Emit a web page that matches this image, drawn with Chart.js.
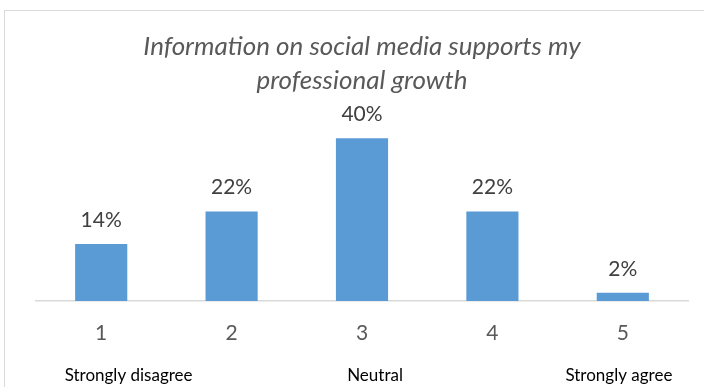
<!DOCTYPE html>
<html>
<head>
<meta charset="utf-8">
<script src="https://cdn.jsdelivr.net/npm/chart.js@4"></script>
<style>
  html, body { margin: 0; padding: 0; background: #ffffff; }
  #wrap { width: 704px; height: 387px; position: relative; }
</style>
</head>
<body>
<div id="wrap"><canvas id="chart" width="704" height="387"></canvas></div>
<script>
// Survey responses: share of respondents per agreement level
const categories = ['1', '2', '3', '4', '5'];
const scaleLabels = ['Strongly disagree', 'Neutral', 'Strongly agree'];
const shares = [14, 22, 40, 22, 2];
const titleLines = ['Information on social media supports my', 'professional growth'];

// Where the descriptive captions sit along the category index axis
const captionAnchors = [0.21, 2.1, 3.97];

const FONT = 'Lato, "Open Sans", "Liberation Sans", sans-serif';

// Value labels above each bar
const valueLabels = {
  id: 'valueLabels',
  afterDatasetsDraw(chart) {
    const ctx = chart.ctx;
    const meta = chart.getDatasetMeta(0);
    ctx.save();
    ctx.fillStyle = '#404040';
    ctx.font = '21px ' + FONT;
    ctx.textAlign = 'center';
    ctx.textBaseline = 'middle';
    meta.data.forEach((bar, i) => {
      ctx.fillText(shares[i] + '%', bar.x, bar.y - 24);
    });
    ctx.restore();
  }
};

// Agreement-scale captions under the category numbers
const scaleCaptions = {
  id: 'scaleCaptions',
  afterDraw(chart) {
    const ctx = chart.ctx;
    const x = chart.scales.x;
    ctx.save();
    ctx.fillStyle = '#000000';
    ctx.font = '17px ' + FONT;
    ctx.textAlign = 'center';
    ctx.textBaseline = 'alphabetic';
    scaleLabels.forEach((txt, i) => {
      ctx.fillText(txt, x.getPixelForValue(captionAnchors[i]), x.bottom + 28);
    });
    ctx.restore();
  }
};

// Thin frame around the chart
const frame = {
  id: 'frame',
  beforeDraw(chart) {
    const ctx = chart.ctx;
    ctx.save();
    ctx.strokeStyle = '#d9d9d9';
    ctx.lineWidth = 1;
    ctx.strokeRect(4.5, 10.5, 760, 440);
    ctx.restore();
  }
};

new Chart(document.getElementById('chart'), {
  type: 'bar',
  data: {
    labels: categories,
    datasets: [{
      data: shares,
      backgroundColor: '#5b9bd5',
      borderWidth: 0,
      categoryPercentage: 0.8,
      barPercentage: 0.5
    }]
  },
  options: {
    responsive: false,
    animation: false,
    layout: { padding: { left: 36, right: 16, top: 0, bottom: 34 } },
    plugins: {
      legend: { display: false },
      tooltip: { enabled: false },
      title: {
        display: true,
        text: titleLines,
        color: '#595959',
        font: { family: FONT, size: 26, style: 'italic', weight: '400', lineHeight: 1.3 },
        padding: { top: 30, bottom: 0 }
      }
    },
    scales: {
      y: {
        display: false,
        min: 0,
        max: 50
      },
      x: {
        position: 'bottom',
        border: { display: true, color: '#d9d9d9', width: 1.5 },
        grid: { display: false, drawTicks: false },
        ticks: { color: '#595959', font: { family: FONT, size: 21 }, padding: 20 },
        afterFit(scale) { scale.height = 52; }
      }
    }
  },
  plugins: [frame, valueLabels, scaleCaptions]
});
</script>
</body>
</html>
